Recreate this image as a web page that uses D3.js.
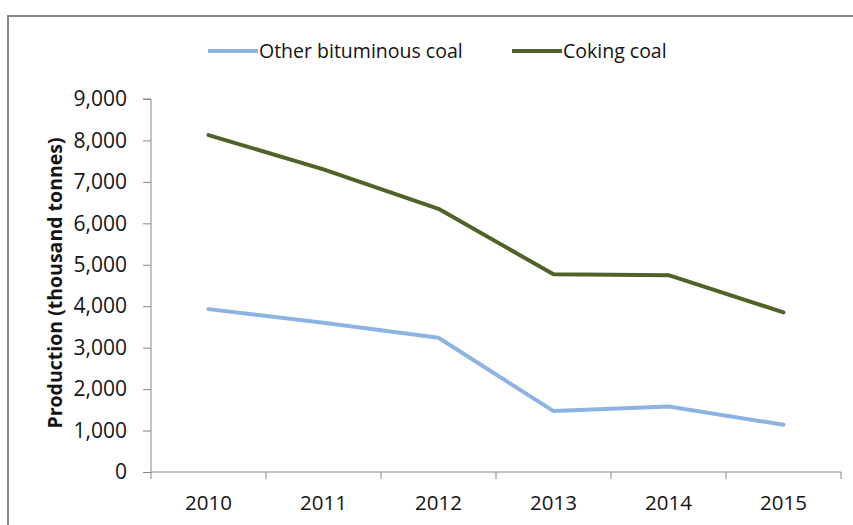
<!DOCTYPE html>
<html lang="en">
<head>
    <meta charset="UTF-8">
    <title>Coal production</title>
    <script src="https://d3js.org/d3.v7.min.js"></script>
</head>

<style>
    html, body {
        margin: 0;
        padding: 0;
        background: #fff;
    }

    svg text {
        font-family: 'Open Sans', sans-serif;
        fill: #141414;
    }
</style>
<body>
<svg id="chart" width="853" height="525"></svg>

<script>
    // data
    var years = ['2010', '2011', '2012', '2013', '2014', '2015']
    var otherBituminous = [3930, 3600, 3240, 1470, 1580, 1140]
    var cokingCoal = [8130, 7300, 6350, 4770, 4750, 3850]
    var seriesNames = ['Other bituminous coal', 'Coking coal']
    var yTicks = [0, 1000, 2000, 3000, 4000, 5000, 6000, 7000, 8000, 9000]

    var colorOther = '#8db3e2'
    var colorCoking = '#4f6228'
    var colorAxis = '#868686'

    var svg = d3.select('#chart')

    // outer frame, runs off the right and bottom of the picture
    svg.append('rect')
        .attr('x', 8).attr('y', 16)
        .attr('width', 900).attr('height', 600)
        .attr('fill', 'none')
        .attr('stroke', colorAxis)
        .attr('stroke-width', 2)

    var plot = {left: 151, right: 841, top: 99, bottom: 472}

    var x = d3.scaleBand()
        .domain(years)
        .range([plot.left, plot.right])

    var y = d3.scaleLinear()
        .domain([0, 9000])
        .range([plot.bottom, plot.top])

    // y axis
    var yAxis = svg.append('g')
        .attr('transform', 'translate(' + plot.left + ',0)')
        .call(d3.axisLeft(y).tickValues(yTicks).tickSize(8).tickPadding(16)
            .tickFormat(d3.format(',')))
    yAxis.selectAll('path, line').attr('stroke', colorAxis)
    yAxis.select('.domain').attr('d', 'M-8,' + plot.top + 'H0V' + plot.bottom)
    yAxis.selectAll('text')
        .style('font-size', '21px')
        .attr('fill', '#141414')

    // x axis: ticks sit between categories
    var xAxis = svg.append('g')
        .attr('transform', 'translate(0,' + plot.bottom + ')')
    xAxis.append('line')
        .attr('x1', plot.left).attr('x2', plot.right)
        .attr('stroke', colorAxis)
    var edges = years.map(function (d) { return x(d) }).concat([plot.right])
    xAxis.selectAll('.tick')
        .data(edges)
        .enter().append('line')
        .attr('x1', function (d) { return d }).attr('x2', function (d) { return d })
        .attr('y1', 0).attr('y2', 7)
        .attr('stroke', colorAxis)
    xAxis.selectAll('.lbl')
        .data(years)
        .enter().append('text')
        .attr('x', function (d) { return x(d) + x.bandwidth() / 2 })
        .attr('y', 38)
        .attr('text-anchor', 'middle')
        .style('font-size', '20.5px')
        .text(function (d) { return d })

    // y title
    svg.append('text')
        .attr('transform', 'translate(62,283) rotate(-90)')
        .attr('text-anchor', 'middle')
        .style('font-size', '19.5px')
        .style('font-weight', 'bold')
        .text('Production (thousand tonnes)')

    // lines
    var line = d3.line()
        .x(function (d, i) { return x(years[i]) + x.bandwidth() / 2 })
        .y(function (d) { return y(d) })

    svg.append('path')
        .datum(otherBituminous)
        .attr('d', line)
        .attr('fill', 'none')
        .attr('stroke', colorOther)
        .attr('stroke-width', 4)
        .attr('stroke-linejoin', 'round')
        .attr('stroke-linecap', 'round')

    svg.append('path')
        .datum(cokingCoal)
        .attr('d', line)
        .attr('fill', 'none')
        .attr('stroke', colorCoking)
        .attr('stroke-width', 4)
        .attr('stroke-linejoin', 'round')
        .attr('stroke-linecap', 'round')

    // legend
    var legendX = [208, 512]
    var legendColors = [colorOther, colorCoking]
    var legend = svg.selectAll('.legend')
        .data(seriesNames)
        .enter().append('g')
        .attr('transform', function (d, i) { return 'translate(' + legendX[i] + ',51)' })
    legend.append('line')
        .attr('x1', 0).attr('x2', 50)
        .attr('stroke', function (d, i) { return legendColors[i] })
        .attr('stroke-width', 4)
    legend.append('text')
        .attr('x', 51)
        .attr('y', 7)
        .style('font-size', '19.5px')
        .text(function (d) { return d })
</script>
</body>
</html>
